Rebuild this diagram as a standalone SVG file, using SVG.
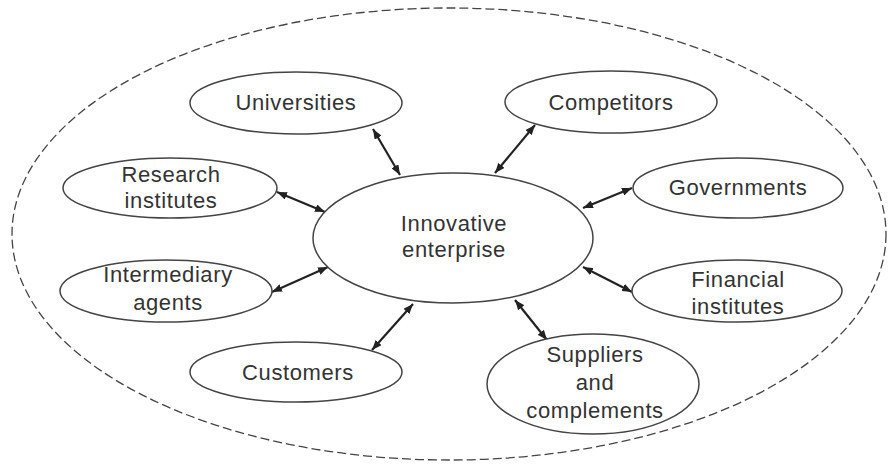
<svg xmlns="http://www.w3.org/2000/svg" width="890" height="464" viewBox="0 0 890 464">
<defs>
<marker id="ah" viewBox="0 0 10 8" refX="10" refY="4" markerWidth="10" markerHeight="8" markerUnits="userSpaceOnUse" orient="auto-start-reverse">
<path d="M0,0 L10,4 L0,8 z" fill="#222"/>
</marker>
<style>
.node{fill:#fff;stroke:#444;stroke-width:1.5}
.outer{fill:none;stroke:#444;stroke-width:1.3;stroke-dasharray:9 4}
.lbl{font-family:"Liberation Sans",Arial,sans-serif;font-size:22px;letter-spacing:0.6px;fill:#333;text-anchor:middle}
.conn line{stroke:#222;stroke-width:2.2;marker-start:url(#ah);marker-end:url(#ah)}
</style>
</defs>
<rect width="890" height="464" fill="#fff"/>
<ellipse class="outer" cx="449" cy="234" rx="437" ry="226"/>
<g id="connectors" class="conn">
<line x1="373" y1="129" x2="400" y2="175"/>
<line x1="277" y1="192" x2="325" y2="212"/>
<line x1="535" y1="125" x2="495" y2="173"/>
<line x1="632" y1="188" x2="583" y2="208"/>
<line x1="272" y1="292" x2="328" y2="267"/>
<line x1="413" y1="304" x2="372" y2="350"/>
<line x1="583" y1="267" x2="632" y2="292"/>
<line x1="515" y1="300" x2="547" y2="340"/>
</g>
<g id="center">
<ellipse class="node" cx="453" cy="238" rx="140" ry="65"/>
<text class="lbl" x="454" y="231">Innovative</text>
<text class="lbl" x="454" y="257">enterprise</text>
</g>
<g id="universities">
<ellipse class="node" cx="296" cy="103" rx="106" ry="31"/>
<text class="lbl" x="296" y="110">Universities</text>
</g>
<g id="competitors">
<ellipse class="node" cx="611" cy="102" rx="106" ry="31"/>
<text class="lbl" x="611" y="110">Competitors</text>
</g>
<g id="research">
<ellipse class="node" cx="170" cy="188" rx="107" ry="30"/>
<text class="lbl" x="171" y="182">Research</text>
<text class="lbl" x="171" y="208">institutes</text>
</g>
<g id="governments">
<ellipse class="node" cx="738" cy="188" rx="105" ry="30"/>
<text class="lbl" x="738" y="195">Governments</text>
</g>
<g id="intermediary">
<ellipse class="node" cx="166" cy="291" rx="106" ry="31"/>
<text class="lbl" x="168" y="282">Intermediary</text>
<text class="lbl" x="168" y="310">agents</text>
</g>
<g id="financial">
<ellipse class="node" cx="737" cy="291" rx="105" ry="31"/>
<text class="lbl" x="738" y="287">Financial</text>
<text class="lbl" x="738" y="314">institutes</text>
</g>
<g id="customers">
<ellipse class="node" cx="296" cy="372" rx="106" ry="30"/>
<text class="lbl" x="298" y="380">Customers</text>
</g>
<g id="suppliers">
<ellipse class="node" cx="593" cy="384" rx="106" ry="50"/>
<text class="lbl" x="595" y="362">Suppliers</text>
<text class="lbl" x="595" y="390">and</text>
<text class="lbl" x="595" y="418">complements</text>
</g>
</svg>
